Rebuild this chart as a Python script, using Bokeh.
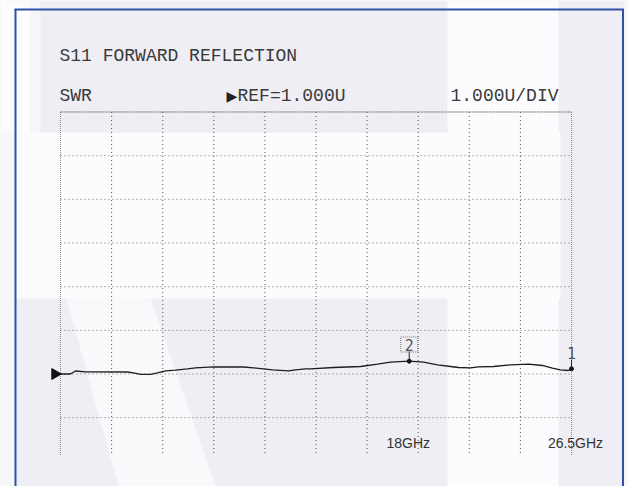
import numpy as np
from bokeh.plotting import figure
from bokeh.models import Range1d
from bokeh.core.properties import value
from bokeh.embed import file_html
from bokeh.resources import INLINE

# ---------------- data ----------------
title_text = "S11 FORWARD REFLECTION"
format_label = "SWR"
ref_arrow = "\u25B6"
ref_label = "REF=1.000U"
scale_label = "1.000U/DIV"
start_ghz = 0.045
stop_ghz = 26.5
ref_value = 1.0
units_per_div = 1.0

freq_ghz = [0.045, 0.56, 0.82, 1.34, 3.51, 3.82, 4.19, 4.70, 5.07, 5.48, 6.00,
            6.62, 7.03, 7.97, 9.52, 10.04, 10.55, 11.02, 11.85, 12.21, 12.73,
            12.99, 14.18, 15.58, 16.46, 17.13, 18.10, 18.84, 19.56, 20.24,
            20.65, 21.27, 21.68, 22.46, 23.34, 24.27, 24.99, 25.51, 25.92,
            26.34, 26.50]
swr = [1.000, 1.000, 1.069, 1.050, 1.046, 1.027, 0.993, 0.993, 1.027, 1.073,
       1.087, 1.119, 1.142, 1.165, 1.160, 1.142, 1.119, 1.096, 1.073, 1.096,
       1.119, 1.119, 1.149, 1.172, 1.224, 1.270, 1.293, 1.270, 1.211, 1.172,
       1.149, 1.142, 1.165, 1.172, 1.211, 1.224, 1.195, 1.133, 1.096, 1.080,
       1.119]

marker_ids = ["2", "1"]
marker_freq = [18.10, 26.50]
marker_swr = [1.293, 1.119]

freq_tick_labels = ["18GHz", "26.5GHz"]
freq_tick_pos = [18.0, 26.5]

# ---------------- layout (picture pixels) ----------------
W, H = 628, 486
OX, OY = 0, 0          # picture position of the canvas' top-left corner
GRID_L, GRID_R = 60.0, 571.0
REF_Y = 373.5
DIV_PX = 43.667
REF_DIV_FROM_TOP = 6
N_XDIV, N_YDIV = 10, 8
GRID_B = 455.0
PX_PER_GHZ = (GRID_R - GRID_L) / (stop_ghz - start_ghz)


def fx(px):
    return start_ghz + (px - GRID_L) / PX_PER_GHZ


def fy(py):
    return ref_value + (REF_Y - py) / DIV_PX * units_per_div


top_val = ref_value + REF_DIV_FROM_TOP * units_per_div
bot_val = fy(GRID_B)

p = figure(width=W, height=H, output_backend="svg", toolbar_location=None,
           x_range=Range1d(fx(OX), fx(OX + W)), y_range=Range1d(fy(OY + H), fy(OY)),
           min_border=0, outline_line_color=None)
p.axis.visible = False
p.grid.visible = False
p.background_fill_color = "#eeeef4"
p.border_fill_color = "#ffffff"

WHITE = "#fcfcfe"
# background patches (scanned paper look)
p.quad(left=[fx(0), fx(30)], right=[fx(30), fx(40)], top=[fy(0), fy(0)],
       bottom=[fy(132), fy(132)], fill_color=[WHITE, "#f6f6f9"], line_color=None)
p.quad(left=fx(0), right=fx(14), top=fy(132), bottom=fy(486),
       fill_color="#f7f7fa", line_color=None)
p.quad(left=fx(14), right=fx(560), top=fy(132), bottom=fy(298),
       fill_color=WHITE, line_color=None)
p.quad(left=fx(447), right=fx(558), top=fy(0), bottom=fy(486),
       fill_color=WHITE, line_color=None)
p.quad(left=fx(624), right=fx(628), top=fy(0), bottom=fy(486),
       fill_color="#f8f8fb", line_color=None)
p.patch([fx(66), fx(150), fx(215), fx(118)], [fy(298), fy(298), fy(486), fy(486)],
        fill_color="#f9f9fc", line_color=None)

# blue frame
p.multi_line(xs=[[fx(15), fx(15)], [fx(14), fx(623.5)], [fx(622.5), fx(622.5)]],
             ys=[[fy(490), fy(9)], [fy(9), fy(9)], [fy(9), fy(490)]],
             line_color="#3050a8", line_width=2)

# grid
xs_div = [start_ghz + i * (stop_ghz - start_ghz) / N_XDIV for i in range(N_XDIV + 1)]
ys_div = [top_val - j * units_per_div for j in range(N_YDIV)]
# interior verticals
p.segment(x0=xs_div[1:-1], x1=xs_div[1:-1], y0=[top_val] * (N_XDIV - 1),
          y1=[bot_val] * (N_XDIV - 1), line_color="#333333", line_dash="1 3",
          line_width=1, line_alpha=0.85)
# edges
p.segment(x0=[xs_div[0], xs_div[-1]], x1=[xs_div[0], xs_div[-1]],
          y0=[top_val, top_val], y1=[bot_val, bot_val], line_color="#8a8a8a",
          line_dash="1 1", line_width=1)
# interior horizontals
p.segment(x0=[start_ghz] * (N_YDIV - 1), x1=[stop_ghz] * (N_YDIV - 1),
          y0=ys_div[1:], y1=ys_div[1:], line_color="#555555", line_dash="1 3",
          line_width=1, line_alpha=0.85)
# top edge
p.segment(x0=[start_ghz], x1=[stop_ghz], y0=[top_val], y1=[top_val],
          line_color="#666666", line_dash="2 1", line_width=1)

# trace
p.line(freq_ghz, swr, line_color="#1e1e1e", line_width=1.3)

# reference arrow
p.scatter(x=[fx(54.5)], y=[ref_value], marker="triangle", size=11,
          angle=-np.pi / 2, fill_color="#111111", line_color="#111111")

# markers
p.scatter(x=marker_freq, y=marker_swr, size=4, fill_color="#111111",
          line_color="#111111")
# marker 2 label (boxed)
m2x, m2y = marker_freq[0], marker_swr[0]
p.segment(x0=[m2x], x1=[m2x], y0=[m2y], y1=[fy(351)], line_color="#222222",
          line_width=1)
p.rect(x=[m2x], y=[fy(344)], width=17 / PX_PER_GHZ, height=15 / DIV_PX,
       fill_color=None, line_color="#777777", line_dash="1 1", line_width=1)
p.text(x=[m2x], y=[fy(344)], text=[marker_ids[0]], text_align="center",
       text_baseline="middle", text_font=value("DejaVu Sans Mono"),
       text_font_size="15px", text_color="#555555")
# marker 1 label
m1x, m1y = marker_freq[1], marker_swr[1]
p.segment(x0=[m1x], x1=[m1x], y0=[m1y], y1=[fy(359)], line_color="#222222",
          line_width=1)
p.text(x=[m1x], y=[fy(352)], text=[marker_ids[1]], text_align="center",
       text_baseline="middle", text_font=value("DejaVu Sans Mono"),
       text_font_size="15px", text_color="#555555")

# instrument annotations
mono = value("Liberation Mono")
p.text(x=[fx(59)], y=[fy(55)], text=[title_text], text_align="left",
       text_baseline="middle", text_font=mono, text_font_size="18px",
       text_color="#3a3a3a")
p.text(x=[fx(59)], y=[fy(95)], text=[format_label], text_align="left",
       text_baseline="middle", text_font=mono, text_font_size="18px",
       text_color="#3a3a3a")
p.text(x=[fx(226)], y=[fy(95)], text=[ref_arrow], text_align="left",
       text_baseline="middle", text_font=value("DejaVu Sans"),
       text_font_size="14px", text_color="#222222")
p.text(x=[fx(237)], y=[fy(95)], text=[ref_label], text_align="left",
       text_baseline="middle", text_font=mono, text_font_size="18px",
       text_color="#3a3a3a")
p.text(x=[fx(450)], y=[fy(95)], text=[scale_label], text_align="left",
       text_baseline="middle", text_font=mono, text_font_size="18px",
       text_color="#3a3a3a")

# frequency labels
p.text(x=freq_tick_pos, y=[fy(442)] * len(freq_tick_pos), text=freq_tick_labels,
       x_offset=[1, 4], text_align="center", text_baseline="middle",
       text_font=value("Liberation Sans"), text_font_size="14px",
       text_color="#333333")

open("out.html", "w").write(file_html(p, INLINE))
